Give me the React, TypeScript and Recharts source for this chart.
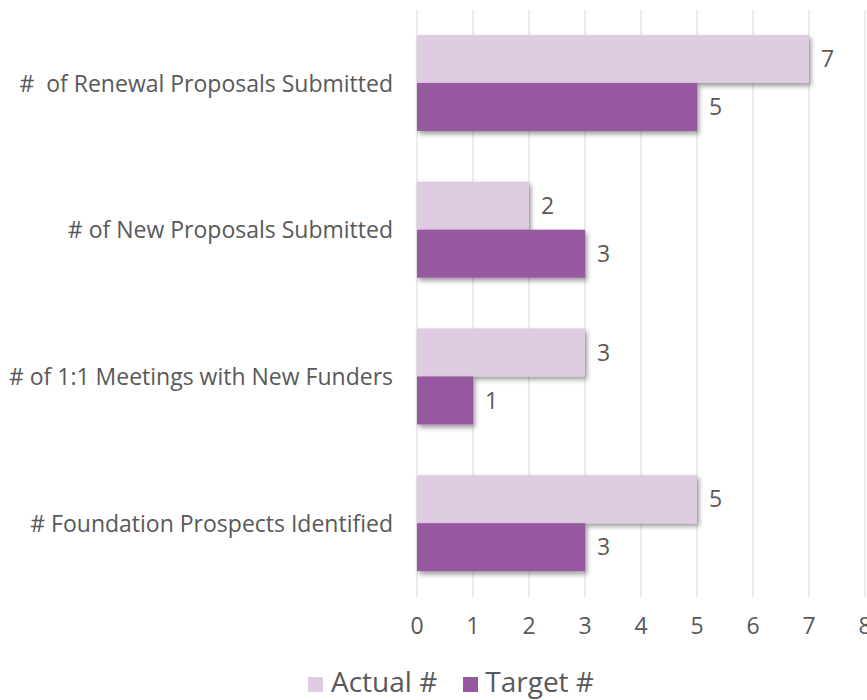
import { BarChart, Bar, XAxis, YAxis, CartesianGrid, LabelList } from 'recharts';

const categories = [
  '#\u00a0 of Renewal Proposals Submitted',
  '# of New Proposals Submitted',
  '# of 1:1 Meetings with New Funders',
  '# Foundation Prospects Identified',
];
const actualValues = [7, 2, 3, 5];
const targetValues = [5, 3, 1, 3];
const xTicks = [0, 1, 2, 3, 4, 5, 6, 7, 8];

const LIGHT = '#dfcbe2';
const DARK = '#96589e';
const TEXT = '#595959';
const FONT = '"Open Sans", sans-serif';

const data = categories.map((name, i) => ({
  name,
  actual: actualValues[i],
  target: targetValues[i],
}));

// bar with a soft drop shadow, like the office chart style
const ShadowBar = (props: any) => {
  const { x, y, width, height, fill } = props;
  if (!width || width <= 0) return null;
  return <rect x={x} y={y} width={width} height={height} fill={fill} filter="url(#barShadow)" />;
};

export default function App() {
  return (
    <div style={{ position: 'absolute', left: 0, top: 0, width: 867, height: 700, fontFamily: FONT }}>
      <BarChart
        width={867}
        height={700}
        data={data}
        layout="vertical"
        margin={{ top: 10, right: 2, left: 0, bottom: 0 }}
        barCategoryGap="17%"
        barGap={0}
      >
        <defs>
          <filter id="barShadow" x="-10%" y="-30%" width="130%" height="180%">
            <feDropShadow dx="2" dy="3" stdDeviation="2.5" floodColor="#000" floodOpacity="0.4" />
          </filter>
        </defs>
        <CartesianGrid horizontal={false} stroke="#d9d9d9" />
        <XAxis
          type="number"
          domain={[0, 8]}
          ticks={xTicks}
          interval={0}
          height={103}
          axisLine={false}
          tickLine={false}
          tickSize={0}
          tickMargin={21}
          tick={{ fontSize: 23, fill: TEXT, fontFamily: FONT }}
        />
        <YAxis
          type="category"
          dataKey="name"
          width={417}
          axisLine={false}
          tickLine={false}
          tickSize={0}
          tickMargin={24}
          tick={{ fontSize: 23, fill: TEXT, fontFamily: FONT }}
        />
        <Bar dataKey="actual" name="Actual #" fill={LIGHT} shape={<ShadowBar />} isAnimationActive={false}>
          <LabelList dataKey="actual" position="right" offset={12} fill={TEXT} fontSize={23} fontFamily={FONT} />
        </Bar>
        <Bar dataKey="target" name="Target #" fill={DARK} shape={<ShadowBar />} isAnimationActive={false}>
          <LabelList dataKey="target" position="right" offset={12} fill={TEXT} fontSize={23} fontFamily={FONT} />
        </Bar>
      </BarChart>
      <div
        style={{
          position: 'absolute',
          left: 308,
          top: 666,
          display: 'flex',
          alignItems: 'flex-start',
          color: TEXT,
          fontSize: 28,
          lineHeight: '30px',
          whiteSpace: 'nowrap',
        }}
      >
        <span style={{ width: 15, height: 15, background: LIGHT, marginTop: 11, marginRight: 8 }} />
        <span style={{ marginRight: 26 }}>Actual #</span>
        <span style={{ width: 15, height: 15, background: DARK, marginTop: 11, marginRight: 7 }} />
        <span>Target #</span>
      </div>
    </div>
  );
}
